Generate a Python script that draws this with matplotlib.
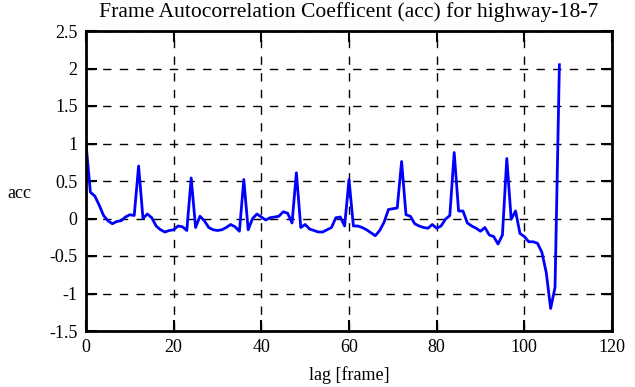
import matplotlib
matplotlib.use("Agg")
import matplotlib.pyplot as plt

lags = list(range(109))
acc = [
    1.00, 0.35, 0.30, 0.18, 0.04, -0.03, -0.07, -0.04, -0.03, 0.02,
    0.05, 0.04, 0.70, 0.00, 0.06, 0.01, -0.10, -0.15, -0.18, -0.16,
    -0.15, -0.10, -0.11, -0.16, 0.54, -0.12, 0.03, -0.03, -0.12, -0.15,
    -0.16, -0.15, -0.12, -0.08, -0.11, -0.17, 0.52, -0.15, 0.00, 0.06,
    0.02, -0.02, 0.01, 0.02, 0.03, 0.09, 0.07, -0.06, 0.61, -0.12,
    -0.08, -0.14, -0.16, -0.18, -0.18, -0.15, -0.12, 0.01, 0.02, -0.10,
    0.52, -0.10, -0.10, -0.12, -0.15, -0.19, -0.23, -0.16, -0.05, 0.12,
    0.13, 0.14, 0.76, 0.05, 0.03, -0.07, -0.10, -0.12, -0.13, -0.08,
    -0.13, -0.10, -0.01, 0.04, 0.88, 0.10, 0.10, -0.06, -0.10, -0.13,
    -0.17, -0.12, -0.22, -0.24, -0.34, -0.22, 0.80, -0.01, 0.10, -0.20,
    -0.24, -0.31, -0.31, -0.33, -0.45, -0.72, -1.20, -0.92, 2.05,
]
xticks = [0, 20, 40, 60, 80, 100, 120]
yticks = [-1.5, -1, -0.5, 0, 0.5, 1, 1.5, 2, 2.5]
ytick_labels = ["-1.5", "-1", "-0.5", "0", "0.5", "1", "1.5", "2", "2.5"]

plt.rcParams["font.family"] = ["Liberation Serif", "DejaVu Serif"]
plt.rcParams["font.size"] = 13

fig = plt.figure(figsize=(6.35, 3.87), dpi=100)
ax = fig.add_axes([86 / 635, 1 - 331 / 387, 526 / 635, 300 / 387])

ax.plot(lags, acc, color="#0000ff", linewidth=2)

ax.set_xlim(0, 120)
ax.set_ylim(-1.5, 2.5)
ax.set_xticks(xticks)
ax.set_yticks(yticks)
ax.set_yticklabels(ytick_labels)
ax.grid(True, color="black", linestyle=(0, (6, 6)), linewidth=1)
ax.tick_params(direction="in", length=8, width=1.5, top=True, right=True, pad=6)
for s in ax.spines.values():
    s.set_linewidth(2)

ax.set_title("Frame Autocorrelation Coefficent (acc) for highway-18-7", pad=10)
ax.set_xlabel("lag [frame]", labelpad=7)
ax.set_ylabel("acc", rotation=0, va="center", ha="left")
ax.yaxis.set_label_coords(-0.15, 0.46)

fig.savefig("out.png", dpi=100)
